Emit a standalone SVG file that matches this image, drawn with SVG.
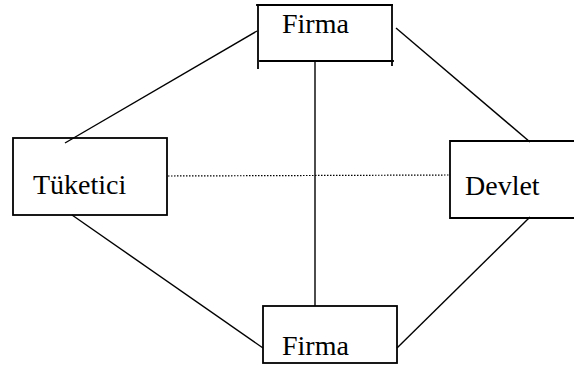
<svg xmlns="http://www.w3.org/2000/svg" width="574" height="365" viewBox="0 0 574 365">
<style>
.box{stroke:#000;stroke-width:1.8;fill:none;stroke-linecap:square}
.c{stroke:#000;stroke-width:1.4;fill:none}
.dot{stroke:#000;stroke-width:1.2;stroke-dasharray:1.5 1.5;fill:none}
text{font-family:"Liberation Serif","Times New Roman",serif;font-size:28px;fill:#000}
</style>
<rect width="574" height="365" fill="#fff"/>
<g id="connectors">
<line class="c" x1="257" y1="31" x2="65" y2="143"/>
<line class="c" x1="396" y1="28" x2="530" y2="142"/>
<line class="c" x1="72" y1="215" x2="263" y2="348"/>
<line class="c" x1="397" y1="348" x2="530" y2="217"/>
<line class="c" x1="315" y1="61" x2="315" y2="306"/>
<line class="dot" x1="168" y1="176" x2="450" y2="175"/>
</g>
<g id="firma-top">
<line class="box" x1="257" y1="5" x2="392" y2="5"/>
<line class="box" x1="258" y1="6" x2="258" y2="68"/>
<line class="box" x1="392" y1="5" x2="392" y2="65"/>
<line class="box" x1="260" y1="61" x2="393" y2="61"/>
<text x="282" y="33">Firma</text>
</g>
<g id="tuketici">
<rect class="box" x="13" y="138" width="154" height="77"/>
<text x="33" y="194">Tüketici</text>
</g>
<g id="devlet">
<polyline class="box" points="576,141 450,141 450,218 576,218"/>
<text x="465" y="195">Devlet</text>
</g>
<g id="firma-bottom">
<rect class="box" x="263" y="306" width="134" height="57"/>
<text x="282" y="355">Firma</text>
</g>
</svg>
